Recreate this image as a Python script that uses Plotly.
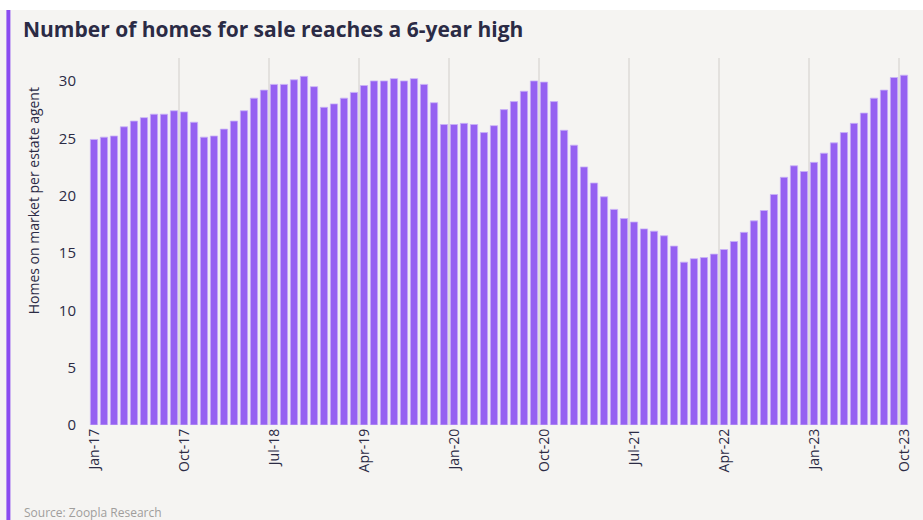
import plotly.graph_objects as go

# ---------------------------------------------------------
# data: homes on market per estate agent, Jan-17 .. Oct-23
# ---------------------------------------------------------
years = ["17", "18", "19", "20", "21", "22", "23"]
month_names = ["Jan", "Feb", "Mar", "Apr", "May", "Jun",
               "Jul", "Aug", "Sep", "Oct", "Nov", "Dec"]
months = [f"{m}-{y}" for y in years for m in month_names][:82]

homes = [
    24.9, 25.1, 25.2, 26.0, 26.5, 26.8, 27.1, 27.1, 27.4, 27.3, 26.4, 25.1,
    25.2, 25.8, 26.5, 27.4, 28.5, 29.2, 29.7, 29.7, 30.1, 30.4, 29.5, 27.7,
    28.0, 28.5, 29.0, 29.6, 30.0, 30.0, 30.2, 30.0, 30.2, 29.7, 28.1, 26.2,
    26.2, 26.3, 26.2, 25.5, 26.1, 27.5, 28.2, 29.1, 30.0, 29.9, 28.2, 25.7,
    24.4, 22.5, 21.1, 19.9, 18.8, 18.0, 17.7, 17.1, 16.9, 16.5, 15.6, 14.2,
    14.5, 14.6, 14.9, 15.3, 16.0, 16.8, 17.8, 18.7, 20.1, 21.6, 22.6, 22.1,
    22.9, 23.7, 24.6, 25.5, 26.3, 27.2, 28.5, 29.2, 30.3, 30.5,
]

tick_labels = ["Jan-17", "Oct-17", "Jul-18", "Apr-19", "Jan-20",
               "Oct-20", "Jul-21", "Apr-22", "Jan-23", "Oct-23"]
y_ticks = [0, 5, 10, 15, 20, 25, 30]

# ---------------------------------------------------------
# colours / geometry
# ---------------------------------------------------------
BG = "#F5F4F2"
BAR = "#9561F1"
ACCENT = "#8A4CF0"
TEXT = "#2B2B45"
GRID = "#E3E1DE"
FONT = "Open Sans, Arial"

W, H = 923, 520
L, R, T, B = 89, 10, 58, 95
PW, PH = W - L - R, H - T - B


def px(x):
    return (x - L) / PW


def py(y):
    return (H - B - y) / PH


fig = go.Figure()

fig.add_trace(go.Bar(
    x=months,
    y=homes,
    marker=dict(color=BAR, line=dict(color="#C9B2F8", width=0.8)),
    hoverinfo="x+y",
))

# white strip at top, purple accent bar at left
fig.add_shape(type="rect", xref="paper", yref="paper",
              x0=px(-5), x1=px(W + 5), y0=py(10), y1=py(-5),
              fillcolor="white", line_width=0, layer="below")
fig.add_shape(type="rect", xref="paper", yref="paper",
              x0=px(6), x1=px(10), y0=py(H + 5), y1=py(10),
              fillcolor=ACCENT, line_width=0)

fig.add_annotation(
    text="Homes on market per estate agent",
    xref="paper", yref="paper", x=px(33), y=py(201),
    xanchor="center", yanchor="middle",
    textangle=-90, showarrow=False,
    font=dict(size=14, color=TEXT, family=FONT),
)
fig.add_annotation(
    text="Source: Zoopla Research",
    xref="paper", yref="paper", x=px(22), y=py(512),
    xanchor="left", yanchor="middle", showarrow=False,
    font=dict(size=12, color="#A09E9C", family=FONT),
)

fig.update_layout(
    width=W, height=H,
    margin=dict(l=L, r=R, t=T, b=B),
    paper_bgcolor=BG,
    plot_bgcolor=BG,
    bargap=0.27,
    showlegend=False,
    font=dict(family=FONT, color=TEXT),
    title=dict(
        text="<b>Number of homes for sale reaches a 6-year high</b>",
        x=23 / W, xanchor="left", xref="container",
        y=1 - 30 / H, yanchor="middle", yref="container",
        font=dict(size=21, color=TEXT, family=FONT),
    ),
)

fig.update_xaxes(
    type="category",
    tickmode="array",
    tickvals=tick_labels,
    ticktext=tick_labels,
    tickangle=-90,
    tickson="boundaries",
    showgrid=True,
    gridcolor=GRID,
    gridwidth=1.5,
    ticks="",
    tickfont=dict(size=14, color=TEXT),
    showline=False,
    zeroline=False,
)

fig.update_yaxes(
    range=[0, 32],
    tickmode="array",
    tickvals=y_ticks,
    showgrid=False,
    zeroline=False,
    ticks="",
    ticklabelstandoff=12,
    tickfont=dict(size=15, color=TEXT),
)

# page has a default body margin; drop it so the chart sits at the corner
fig.write_html("out.html", config={"displayModeBar": False},
               post_script="document.body.style.margin='0';")
